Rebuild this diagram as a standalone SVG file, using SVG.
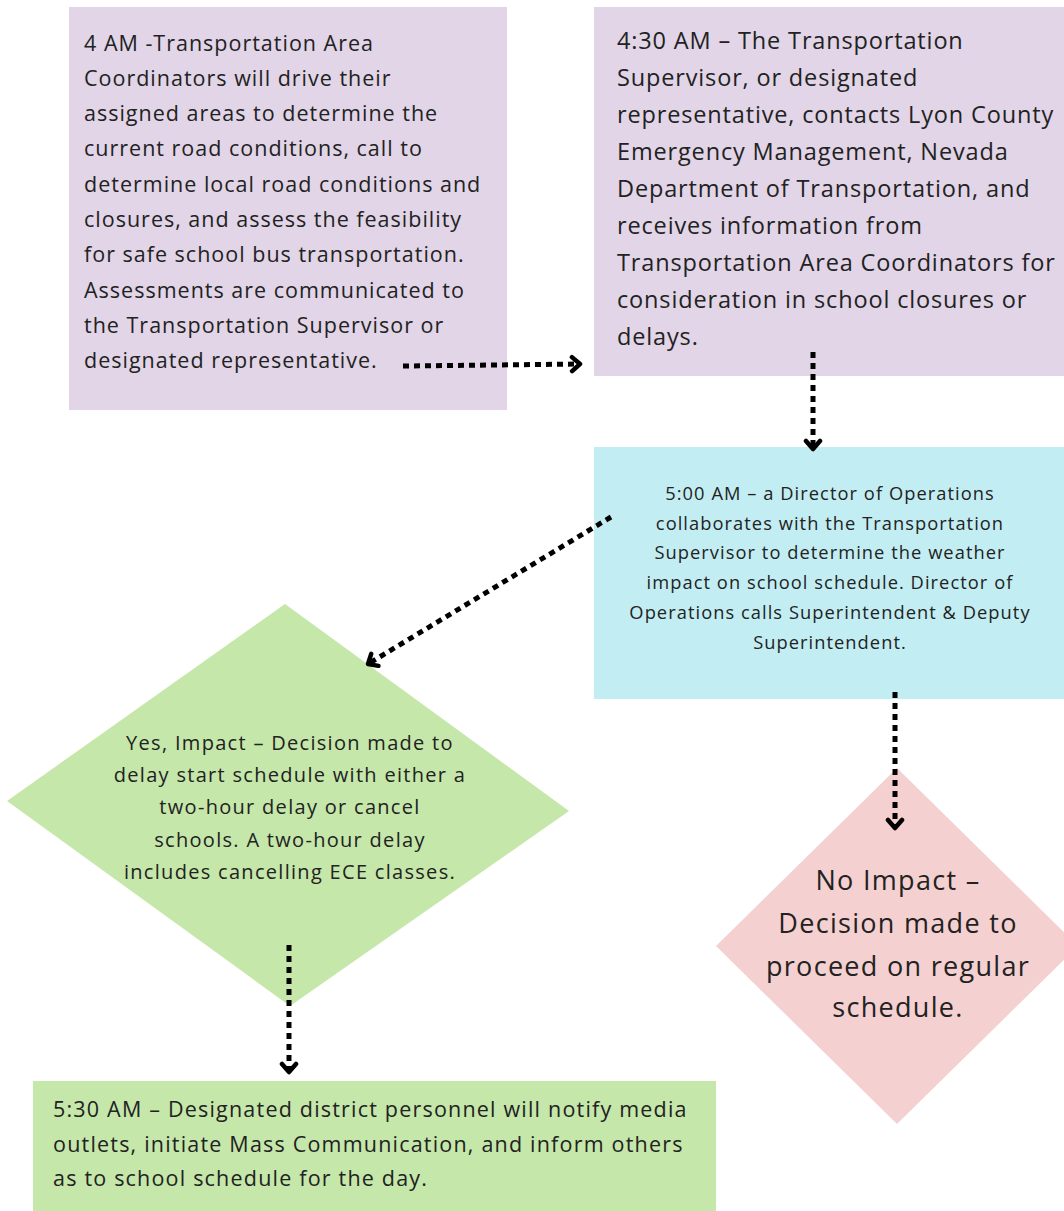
<svg xmlns="http://www.w3.org/2000/svg" width="1064" height="1211" viewBox="0 0 1064 1211">
<defs>
<style>
text{font-family:"Open Sans","Noto Sans","Liberation Sans",sans-serif;fill:#222;}
.t1{font-size:21.5px;letter-spacing:1px;}
.t2{font-size:23.5px;letter-spacing:0.85px;}
.t3{font-size:18.3px;letter-spacing:1.05px;text-anchor:middle;}
.t4{font-size:20px;letter-spacing:1.3px;text-anchor:middle;}
.t5{font-size:27px;letter-spacing:1.3px;text-anchor:middle;}
.t6{font-size:21.5px;letter-spacing:1.2px;}
.conn{fill:none;stroke:#000;stroke-width:5;stroke-dasharray:6 5;}
</style>
<marker id="ah" viewBox="0 0 14 20" refX="11" refY="10" markerWidth="14" markerHeight="20" markerUnits="userSpaceOnUse" orient="auto">
<path d="M3,3 L11,10 L3,17" fill="none" stroke="#000" stroke-width="4.5" stroke-linecap="round" stroke-linejoin="round"/>
</marker>
</defs>
<rect width="1064" height="1211" fill="#fff"/>
<g id="n1">
<rect x="69" y="7" width="438" height="403" fill="#e1d5e7"/>
<text class="t1" x="84"><tspan x="84" y="51">4 AM -Transportation Area</tspan><tspan x="84" y="86">Coordinators will drive their</tspan><tspan x="84" y="121">assigned areas to determine the</tspan><tspan x="84" y="156">current road conditions, call to</tspan><tspan x="84" y="192">determine local road conditions and</tspan><tspan x="84" y="227">closures, and assess the feasibility</tspan><tspan x="84" y="262">for safe school bus transportation.</tspan><tspan x="84" y="298">Assessments are communicated to</tspan><tspan x="84" y="333">the Transportation Supervisor or</tspan><tspan x="84" y="368">designated representative.</tspan></text>
</g>
<g id="n2">
<rect x="594" y="7" width="470" height="369" fill="#e1d5e7"/>
<text class="t2"><tspan x="617" y="49">4:30 AM – The Transportation</tspan><tspan x="617" y="86">Supervisor, or designated</tspan><tspan x="617" y="123">representative, contacts Lyon County</tspan><tspan x="617" y="160">Emergency Management, Nevada</tspan><tspan x="617" y="197">Department of Transportation, and</tspan><tspan x="617" y="234">receives information from</tspan><tspan x="617" y="271">Transportation Area Coordinators for</tspan><tspan x="617" y="308">consideration in school closures or</tspan><tspan x="617" y="345">delays.</tspan></text>
</g>
<g id="n3">
<rect x="594" y="447" width="470" height="252" fill="#c2eef3"/>
<text class="t3"><tspan x="830" y="500">5:00 AM – a Director of Operations</tspan><tspan x="830" y="530">collaborates with the Transportation</tspan><tspan x="830" y="559">Supervisor to determine the weather</tspan><tspan x="830" y="589">impact on school schedule. Director of</tspan><tspan x="830" y="619">Operations calls Superintendent &amp; Deputy</tspan><tspan x="830" y="649">Superintendent.</tspan></text>
</g>
<g id="n4">
<polygon points="285,604 569,811 290,1006 7,801" fill="#c5e7aa"/>
<text class="t4"><tspan x="290" y="750">Yes, Impact – Decision made to</tspan><tspan x="290" y="782">delay start schedule with either a</tspan><tspan x="290" y="814">two-hour delay or cancel</tspan><tspan x="290" y="847">schools. A two-hour delay</tspan><tspan x="290" y="879">includes cancelling ECE classes.</tspan></text>
</g>
<g id="n5">
<polygon points="897,768 1078,946 897,1124 716,946" fill="#f4d0d0"/>
<text class="t5"><tspan x="898" y="890">No Impact –</tspan><tspan x="898" y="933">Decision made to</tspan><tspan x="898" y="976">proceed on regular</tspan><tspan x="898" y="1017">schedule.</tspan></text>
</g>
<g id="n6">
<rect x="33" y="1081" width="683" height="130" fill="#c5e7aa"/>
<text class="t6"><tspan x="53" y="1117">5:30 AM – Designated district personnel will notify media</tspan><tspan x="53" y="1152">outlets, initiate Mass Communication, and inform others</tspan><tspan x="53" y="1186">as to school schedule for the day.</tspan></text>
</g>
<g id="connectors">
<path class="conn" d="M403,366 L580,364" marker-end="url(#ah)"/>
<path class="conn" d="M813,352 L813,449" marker-end="url(#ah)"/>
<path class="conn" d="M611,517 L368,664" marker-end="url(#ah)"/>
<path class="conn" d="M895,692 L895,828" marker-end="url(#ah)"/>
<path class="conn" d="M289,945 L289,1072" marker-end="url(#ah)"/>
</g>
</svg>
